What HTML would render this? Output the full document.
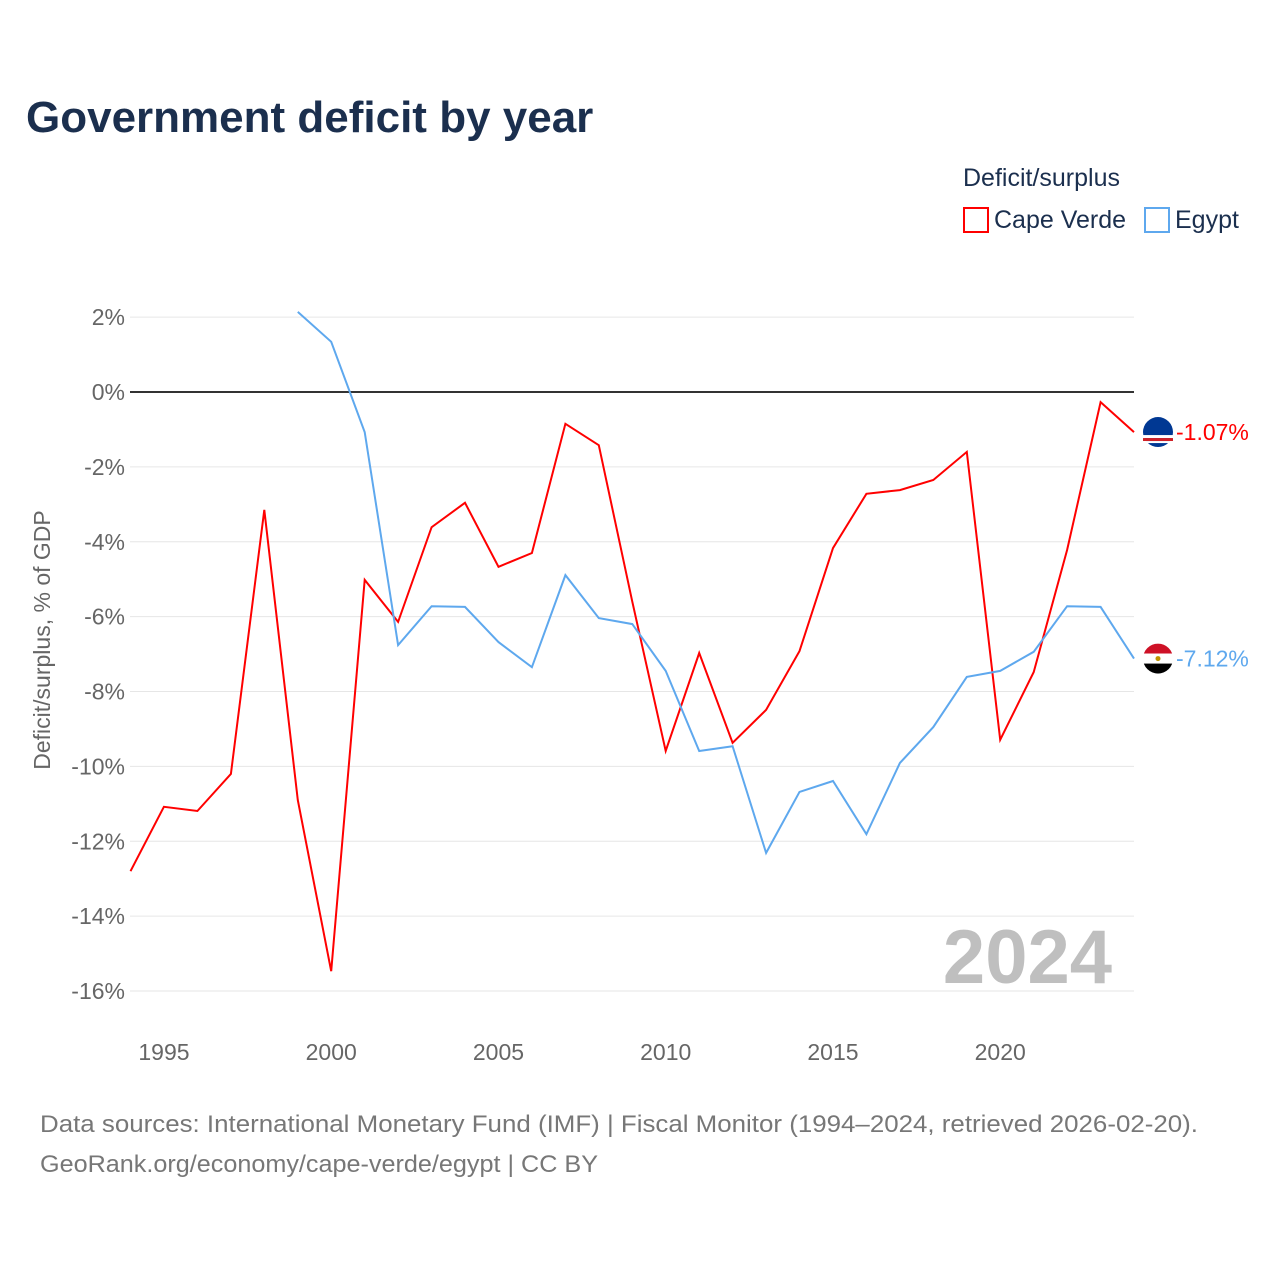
<!DOCTYPE html>
<html><head><meta charset="utf-8">
<style>
body{margin:0;background:#fff;font-family:"Liberation Sans",sans-serif;}
#wrap{position:relative;width:1280px;height:1280px;overflow:hidden;}
</style></head>
<body>
<div id="wrap">
<svg id="chart" width="1280" height="1280" font-family="Liberation Sans, sans-serif">
<text x="26" y="132" font-size="44" font-weight="bold" fill="#1b2f4e">Government deficit by year</text>
<text x="963" y="186" font-size="25" fill="#1b2f4e">Deficit/surplus</text>
<g>
<rect x="964" y="208" width="24" height="24" fill="none" stroke="#ff0000" stroke-width="2"/>
<text x="994" y="228" font-size="25" fill="#1b2f4e">Cape Verde</text></g>
<g>
<rect x="1145" y="208" width="24" height="24" fill="none" stroke="#5ea8ee" stroke-width="2"/>
<text x="1175" y="228" font-size="25" fill="#1b2f4e">Egypt</text></g>
<text transform="translate(50,640) rotate(-90)" text-anchor="middle" font-size="23" fill="#666">Deficit/surplus, % of GDP</text>
<g id="grid"></g><g id="lines"></g>
<text x="1112" y="983" text-anchor="end" font-size="76" font-weight="bold" fill="#bfbfbf">2024</text>
<text x="40" y="1132" font-size="24" fill="#777" textLength="1158" lengthAdjust="spacingAndGlyphs">Data sources: International Monetary Fund (IMF) | Fiscal Monitor (1994–2024, retrieved 2026-02-20).</text>
<text x="40" y="1172" font-size="24" fill="#777" textLength="558" lengthAdjust="spacingAndGlyphs">GeoRank.org/economy/cape-verde/egypt | CC BY</text>
</svg>
</div>
<script>
const years=[1994,1995,1996,1997,1998,1999,2000,2001,2002,2003,2004,2005,2006,2007,2008,2009,2010,2011,2012,2013,2014,2015,2016,2017,2018,2019,2020,2021,2022,2023,2024];
const capeVerde=[-12.8,-11.08,-11.19,-10.2,-3.15,-10.9,-15.47,-5.02,-6.14,-3.61,-2.96,-4.67,-4.3,-0.85,-1.42,-5.6,-9.59,-6.97,-9.37,-8.49,-6.92,-4.17,-2.72,-2.62,-2.35,-1.6,-9.29,-7.48,-4.22,-0.27,-1.07];
const egypt=[null,null,null,null,null,2.14,1.34,-1.07,-6.76,-5.72,-5.74,-6.68,-7.35,-4.89,-6.04,-6.2,-7.45,-9.59,-9.46,-12.31,-10.68,-10.39,-11.81,-9.91,-8.95,-7.61,-7.45,-6.94,-5.72,-5.74,-7.12];
const yTicks=[2,0,-2,-4,-6,-8,-10,-12,-14,-16];
const xTicks=[1995,2000,2005,2010,2015,2020];
const NS="http://www.w3.org/2000/svg";
const x=v=>130.5+(v-1994)*33.45;
const y=v=>392-v*37.44;
const grid=document.getElementById('grid'),lines=document.getElementById('lines');
function mk(tag,attrs,parent){const e=document.createElementNS(NS,tag);for(const k in attrs)e.setAttribute(k,attrs[k]);parent.appendChild(e);return e;}
yTicks.forEach(t=>{
 const l=mk('line',{x1:130,x2:1134,y1:y(t),y2:y(t),stroke:t===0?'#333':'#e6e6e6','stroke-width':t===0?2:1},grid);
 
 
 const tx=mk('text',{x:125,y:y(t)+8,'text-anchor':'end','font-size':23,fill:'#666'},grid);
 tx.textContent=t+'%';
 
 
});
xTicks.forEach(t=>{
 const tx=mk('text',{x:x(t),y:1060,'text-anchor':'middle','font-size':23,fill:'#666'},grid);
 tx.textContent=t;
 
 
});
function series(vals,color,name){
 let d='';vals.forEach((v,i)=>{if(v===null)return;d+=(d?'L':'M')+x(years[i]).toFixed(1)+','+y(v).toFixed(1);});
 const p=mk('path',{d:d,fill:'none',stroke:color,'stroke-width':2},lines);
 
 
 const last=vals[vals.length-1],cy=y(last),cx=x(2024)+24;
 const tx=mk('text',{x:cx+18,y:cy+8,'font-size':23,fill:color},lines);
 tx.textContent=last.toFixed(2)+'%';
 
 
 return [cx,cy];
}
const [c1x,c1y]=series(capeVerde,'#ff0000','cape-verde');
const [c2x,c2y]=series(egypt,'#5ea8ee','egypt');
let g=mk('g',{},lines);


mk('circle',{cx:c1x,cy:c1y,r:15,fill:'#003893'},g);
mk('rect',{x:c1x-15,y:c1y+3,width:30,height:3,fill:'#fff'},g);
mk('rect',{x:c1x-15,y:c1y+6,width:30,height:3,fill:'#cf2027'},g);
mk('rect',{x:c1x-15,y:c1y+9,width:30,height:2,fill:'#fff'},g);
g=mk('g',{},lines);


mk('clipPath',{id:'ce'},g);
mk('circle',{cx:c2x,cy:c2y,r:15},document.getElementById('ce'));
mk('rect',{x:c2x-15,y:c2y-15,width:30,height:10,fill:'#ce1126','clip-path':'url(#ce)'},g);
mk('rect',{x:c2x-15,y:c2y-5,width:30,height:10,fill:'#fff','clip-path':'url(#ce)'},g);
mk('rect',{x:c2x-15,y:c2y+5,width:30,height:10,fill:'#000','clip-path':'url(#ce)'},g);
mk('circle',{cx:c2x,cy:c2y,r:2.5,fill:'#c09300'},g);
</script>
</body></html>
